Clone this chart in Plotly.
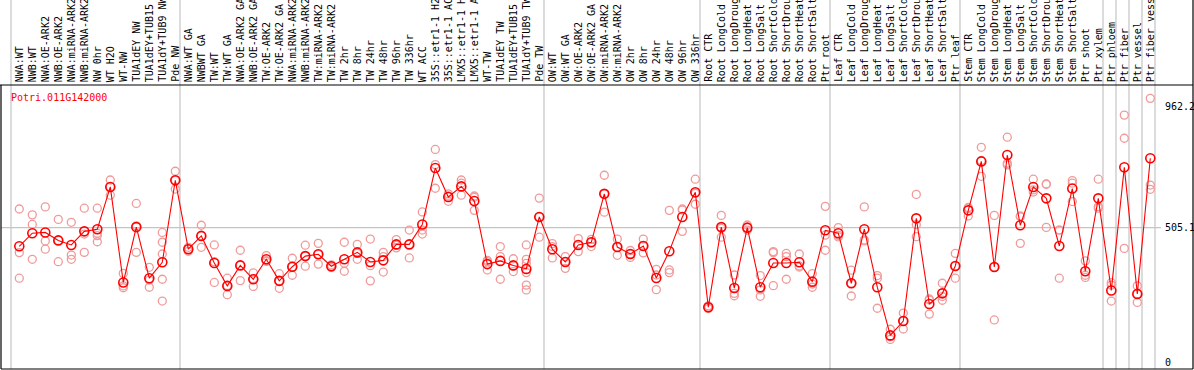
import plotly.graph_objects as go

samples = [
    "NWA:WT", "NWB:WT", "NWA:OE-ARK2", "NWB:OE-ARK2", "NWA:miRNA-ARK2", "NWB:miRNA-ARK2",
    "NW 0hr", "WT H2O", "WT-NW", "TUA1dEY NW", "TUA1dEY+TUB15", "TUA1dY+TUB9 NW", "Pde NW",
    "NWA:WT GA", "NWBWT GA", "TW:WT", "TW:WT GA", "NWA:OE-ARK2 GA", "NWB:OE-ARK2 GA",
    "TW:OE-ARK2", "TW:OE-ARK2 GA", "NWA:miRNA-ARK2", "NWB:miRNA-ARK2", "TW:miRNA-ARK2",
    "TW:miRNA-ARK2", "TW 2hr", "TW 8hr", "TW 24hr", "TW 48hr", "TW 96hr", "TW 336hr", "WT ACC",
    "35S::etr1-1 H2", "35S::etr1-1 AC", "LMX5::etr1-1 H", "LMX5::etr1-1 A", "WT-TW",
    "TUA1dEY TW", "TUA1dEY+TUB15", "TUA1dY+TUB9 TW", "Pde TW",
    "OW:WT", "OW:WT GA", "OW:OE-ARK2", "OW:OE-ARK2 GA", "OW:miRNA-ARK2", "OW:miRNA-ARK2",
    "OW 2hr", "OW 8hr", "OW 24hr", "OW 48hr", "OW 96hr", "OW 336hr",
    "Root CTR", "Root LongCold", "Root LongDroug", "Root LongHeat", "Root LongSalt",
    "Root ShortCold", "Root ShortDrou", "Root ShortHeat", "Root ShortSalt", "Ptr root",
    "Leaf CTR", "Leaf LongCold", "Leaf LongDroug", "Leaf LongHeat", "Leaf LongSalt",
    "Leaf ShortCold", "Leaf ShortDrou", "Leaf ShortHeat", "Leaf ShortSalt", "Ptr leaf",
    "Stem CTR", "Stem LongCold", "Stem LongDroug", "Stem LongHeat", "Stem LongSalt",
    "Stem ShortCold", "Stem ShortDrou", "Stem ShortHeat", "Stem ShortSalt", "Ptr shoot",
    "Ptr xylem", "Ptr phloem", "Ptr fiber", "Ptr vessel", "Ptr fiber vess",
]

mean_expr = [
    435, 484, 487, 457, 440, 491, 499, 658, 299, 507, 315, 375, 683,
    424, 474, 372, 286, 363, 311, 386, 305, 358, 398, 405, 360, 386, 412, 376, 382, 442,
    442, 517, 729, 620, 660, 605, 368, 380, 363, 350, 545,
    424, 376, 440, 450, 632, 432, 406, 436, 316, 416, 545, 638,
    206, 507, 278, 505, 281, 372, 372, 375, 302, 495,
    484, 296, 499, 281, 100, 154, 540, 218, 258, 361,
    570, 754, 357, 778, 514, 658, 615, 436, 652, 341, 615,
    269, 732, 256, 766,
]

replicates = [
    [575, 411, 315], [553, 517, 386], [583, 455, 424], [536, 457, 377], [525, 402, 386],
    [578, 481, 412], [578, 484, 475, 452], [684, 659, 627], [333, 286, 279], [596, 512, 412],
    [356, 308, 281], [487, 450, 406, 311, 229], [717, 683, 650],
    [431, 424, 416], [514, 474, 431], [440, 377, 299], [315, 288, 253], [420, 363, 306],
    [335, 313, 284], [400, 381, 378], [332, 305, 277], [390, 358, 326], [439, 398, 360],
    [446, 405, 368], [365, 360, 355], [450, 371, 341], [442, 408, 386], [462, 362, 305],
    [412, 396, 338], [460, 439, 429], [496, 442, 391], [564, 496, 481], [799, 742, 653],
    [632, 624, 604], [684, 672, 627], [624, 619, 570], [382, 377, 346], [434, 396, 311],
    [388, 361, 340], [440, 386, 371, 336, 289, 271], [616, 546, 469],
    [445, 434, 391], [396, 376, 352], [464, 440, 415], [461, 450, 434], [702, 632, 563],
    [462, 432, 401], [419, 406, 393], [462, 436, 410], [348, 327, 272], [570, 346, 336],
    [575, 571, 491], [687, 634, 593],
    [211, 206, 201], [551, 502, 469], [327, 258, 249], [515, 505, 496], [325, 271, 247],
    [415, 411, 287], [408, 396, 311], [406, 361, 357], [332, 293, 281], [585, 477, 420],
    [505, 476, 470], [345, 296, 248], [583, 459, 455], [325, 315, 202], [123, 95, 85],
    [184, 154, 124], [630, 516, 471], [237, 233, 180], [296, 246, 232], [408, 361, 315],
    [581, 578, 549], [807, 757, 698], [551, 357, 158], [845, 747, 741], [549, 546, 446],
    [687, 647, 639], [668, 669, 506], [496, 496, 315], [682, 672, 603], [380, 326, 318],
    [687, 584, 578],
    [298, 289, 229], [928, 841, 427], [286, 256, 224], [991, 665, 649],
]

group_ends = [0, 13, 41, 53, 63, 73, 84, 85, 86, 87, 88]
axis_ticks = [962.2, 505.1, 0]
axis_tick_text = ["962.2", "505.1", "0"]
gene_id = "Potri.011G142000"

W, H = 1194, 370
L, R, T, B = 1, 1, 85, 1
X0 = 6.3      # pixel of x = 0
XSTEP = 13.0  # pixels per sample
def px_to_x(p):
    return (p - X0) / XSTEP

YZERO_PX = 362.0
YSCALE = 256.0 / 962.2
def py_to_val(p):
    return (YZERO_PX - p) / YSCALE

xr = [px_to_x(L), px_to_x(W - R)]
yr = [py_to_val(H - B), py_to_val(T)]
plot_h = H - T - B
plot_w = W - L - R

xs = list(range(1, len(samples) + 1))
rep_x, rep_y = [], []
for i, reps in zip(xs, replicates):
    for v in reps:
        rep_x.append(i)
        rep_y.append(v)

fig = go.Figure()
fig.add_trace(go.Scatter(
    x=rep_x, y=rep_y, mode="markers",
    marker=dict(symbol="circle-open", size=8, color="#F09A9A", line=dict(width=1.3, color="#F09A9A")),
    hoverinfo="skip", showlegend=False,
))
fig.add_trace(go.Scatter(
    x=xs, y=mean_expr, mode="lines+markers",
    line=dict(color="#FF0000", width=1.1),
    marker=dict(symbol="circle-open", size=9, color="#FF0000", line=dict(width=1.6, color="#FF0000")),
    showlegend=False,
))

shapes = []
gray = "#C4C4C4"
for e in group_ends:
    xe = e + 4.7 / XSTEP
    shapes.append(dict(type="line", xref="x", yref="paper", x0=xe, x1=xe, y0=0, y1=(H - B) / plot_h,
                       line=dict(color=gray, width=1.2), layer="below"))
shapes.append(dict(type="line", xref="x", yref="y", x0=xr[0], x1=px_to_x(1161), y0=505.1, y1=505.1,
                   line=dict(color=gray, width=1.2), layer="below"))
black = "#000000"
shapes += [
    dict(type="line", xref="paper", yref="paper", x0=-L / plot_w, x1=1, y0=1, y1=1, line=dict(color=black, width=1.2)),
    dict(type="line", xref="paper", yref="paper", x0=0, x1=0, y0=0, y1=1, line=dict(color=black, width=1.2)),
    dict(type="line", xref="paper", yref="paper", x0=1, x1=1, y0=0, y1=(H - B) / plot_h, line=dict(color=black, width=1.2)),
    dict(type="line", xref="paper", yref="paper", x0=0, x1=1, y0=0, y1=0, line=dict(color=black, width=1.2)),
]

mono = "DejaVu Sans Mono"
annotations = []
for i, s in zip(xs, samples):
    annotations.append(dict(x=i, y=1, xref="x", yref="paper", text=s, textangle=-90,
                            xanchor="center", yanchor="bottom", yshift=1, showarrow=False,
                            font=dict(family=mono, size=10, color="black")))
annotations.append(dict(x=(9.3 - L) / plot_w, y=(H - B - 97) / plot_h, xref="paper", yref="paper",
                        text=gene_id, xanchor="left", yanchor="middle", showarrow=False,
                        font=dict(family=mono, size=10, color="#FF0000")))
for v, t in zip(axis_ticks, axis_tick_text):
    annotations.append(dict(x=(1163 - L) / plot_w, y=v, xref="paper", yref="y", text=t,
                            xanchor="left", yanchor="middle", showarrow=False,
                            font=dict(family=mono, size=10, color="black")))

fig.update_layout(
    width=W, height=H,
    margin=dict(l=L, r=R, t=T, b=B, pad=0),
    paper_bgcolor="white", plot_bgcolor="white",
    xaxis=dict(range=xr, showgrid=False, zeroline=False, showticklabels=False, showline=False, fixedrange=True),
    yaxis=dict(range=yr, showgrid=False, zeroline=False, showticklabels=False, showline=False, fixedrange=True),
    shapes=shapes, annotations=annotations,
    showlegend=False,
)

fig.write_html("out.html", config={"displayModeBar": False},
               post_script="document.body.style.margin='0';document.body.style.padding='0';document.body.style.overflow='hidden';")
